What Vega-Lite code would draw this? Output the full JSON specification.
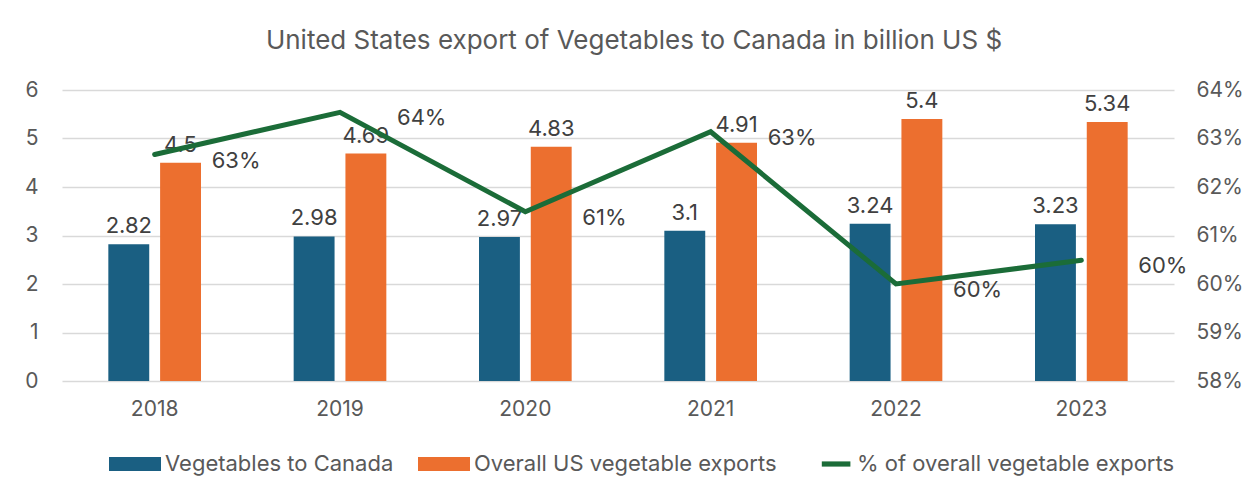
{
  "$schema": "https://vega.github.io/schema/vega-lite/v6.json",
  "width": 1112,
  "height": 291,
  "padding": {"left": 24, "top": 28, "right": 10, "bottom": 10},
  "background": "white",
  "config": {
    "font": "Inter",
    "view": {"stroke": null},
    "axis": {"labelFont": "Inter", "labelColor": "#595959", "labelFontSize": 21, "domain": false, "ticks": false, "title": null},
    "legend": {"labelFont": "Inter", "labelColor": "#595959", "labelFontSize": 22, "labelLimit": 0}
  },
  "title": {
    "text": "United States export of Vegetables to Canada in billion US $",
    "fontSize": 26,
    "fontWeight": "normal",
    "color": "#595959",
    "font": "Inter",
    "dx": 16,
    "offset": 25
  },
  "datasets": {
    "bars": [
      {"year": "2018", "series": "Vegetables to Canada", "value": 2.82},
      {"year": "2018", "series": "Overall US vegetable exports", "value": 4.5},
      {"year": "2019", "series": "Vegetables to Canada", "value": 2.98},
      {"year": "2019", "series": "Overall US vegetable exports", "value": 4.69},
      {"year": "2020", "series": "Vegetables to Canada", "value": 2.97},
      {"year": "2020", "series": "Overall US vegetable exports", "value": 4.83},
      {"year": "2021", "series": "Vegetables to Canada", "value": 3.1},
      {"year": "2021", "series": "Overall US vegetable exports", "value": 4.91},
      {"year": "2022", "series": "Vegetables to Canada", "value": 3.24},
      {"year": "2022", "series": "Overall US vegetable exports", "value": 5.4},
      {"year": "2023", "series": "Vegetables to Canada", "value": 3.23},
      {"year": "2023", "series": "Overall US vegetable exports", "value": 5.34}
    ],
    "share": [
      {"year": "2018", "pct": 0.6267},
      {"year": "2019", "pct": 0.6354},
      {"year": "2020", "pct": 0.6149},
      {"year": "2021", "pct": 0.6314},
      {"year": "2022", "pct": 0.6},
      {"year": "2023", "pct": 0.6049}
    ]
  },
  "encoding": {
    "x": {
      "field": "year",
      "type": "ordinal",
      "scale": {"paddingInner": 0.5, "paddingOuter": 0.25},
      "axis": {"labelAngle": 0, "labelPadding": 17, "grid": false}
    }
  },
  "layer": [
    {
      "data": {"name": "bars"},
      "encoding": {
        "y": {
          "field": "value",
          "type": "quantitative",
          "scale": {"domain": [0, 6]},
          "axis": {"orient": "left", "values": [0, 1, 2, 3, 4, 5, 6], "grid": true, "gridColor": "#d9d9d9", "gridWidth": 1.5, "labelPadding": 24}
        },
        "xOffset": {
          "field": "series",
          "type": "nominal",
          "scale": {"domain": ["Vegetables to Canada", "Overall US vegetable exports"], "paddingInner": 0.21}
        }
      },
      "layer": [
        {
          "mark": {"type": "bar"},
          "encoding": {
            "color": {
              "field": "series",
              "type": "nominal",
              "scale": {
                "domain": ["Vegetables to Canada", "Overall US vegetable exports", "% of overall vegetable exports"],
                "range": ["#1a5f82", "#ec6f2f", "#1b6c38"]
              },
              "legend": {
                "orient": "none",
                "legendX": 47,
                "legendY": 348,
                "direction": "horizontal",
                "title": null,
                "columnPadding": 24,
                "labelOffset": 4,
                "symbolType": "M-1,-0.27H1V0.27H-1Z",
                "symbolSize": 2704,
                "symbolStrokeWidth": 0,
                "encode": {
                  "symbols": {
                    "update": {
                      "shape": {"signal": "datum.value === '% of overall vegetable exports' ? 'M-0.2,-0.1H0.9V0.1H-0.2Z' : 'M-1,-0.27H1V0.27H-1Z'"}
                    }
                  }
                }
              }
            }
          }
        },
        {
          "mark": {"type": "text", "baseline": "bottom", "dy": -6, "fontSize": 22, "color": "#404040", "font": "Inter"},
          "encoding": {"text": {"field": "value", "type": "quantitative"}}
        }
      ]
    },
    {
      "data": {"name": "share"},
      "encoding": {
        "y": {
          "field": "pct",
          "type": "quantitative",
          "scale": {"domain": [0.58, 0.64], "zero": false},
          "axis": {"orient": "right", "values": [0.58, 0.59, 0.6, 0.61, 0.62, 0.63, 0.64], "format": ".0%", "grid": false, "labelPadding": 22}
        }
      },
      "layer": [
        {
          "mark": {"type": "line", "strokeWidth": 5, "strokeCap": "round", "strokeJoin": "miter"},
          "encoding": {"color": {"datum": "% of overall vegetable exports", "type": "nominal"}}
        },
        {
          "mark": {"type": "text", "align": "left", "baseline": "middle", "dx": 57, "dy": 6, "fontSize": 22, "color": "#404040", "font": "Inter"},
          "encoding": {"text": {"field": "pct", "type": "quantitative", "format": ".0%"}}
        }
      ]
    }
  ],
  "resolve": {"scale": {"y": "independent"}}
}
